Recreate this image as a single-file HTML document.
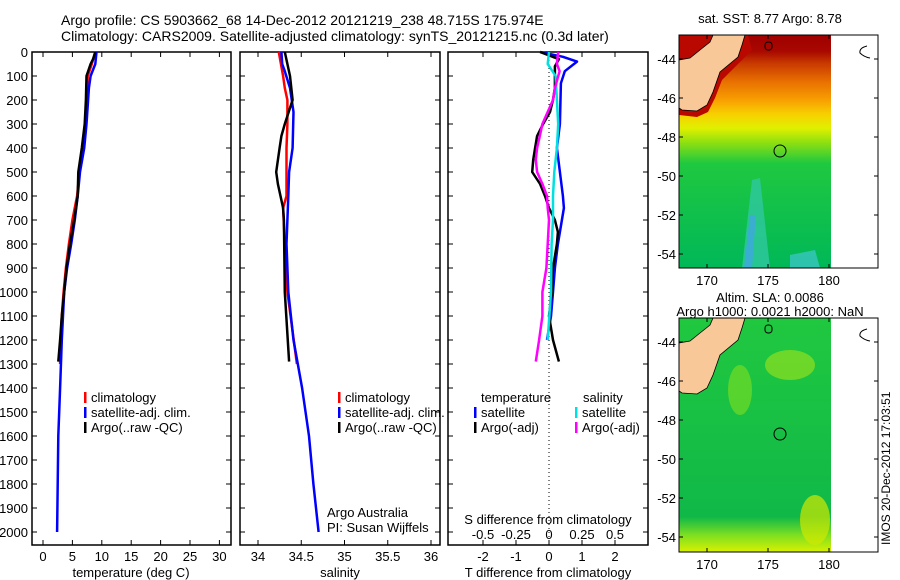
<!DOCTYPE html>
<html><head><meta charset="utf-8">
<style>
html,body{margin:0;padding:0;background:#fff;}
svg{display:block;font-family:"Liberation Sans",sans-serif;}
text{font-size:13px;fill:#000;}
</style></head>
<body>
<svg id="fig" width="900" height="580" viewBox="0 0 900 580" xmlns="http://www.w3.org/2000/svg">
<defs>
  <linearGradient id="sstGrad" x1="0" y1="0" x2="0" y2="1">
    <stop offset="0" stop-color="#a00000"/>
    <stop offset="0.07" stop-color="#a80800"/>
    <stop offset="0.12" stop-color="#c83800"/>
    <stop offset="0.2" stop-color="#e87000"/>
    <stop offset="0.28" stop-color="#f8a000"/>
    <stop offset="0.34" stop-color="#f8d000"/>
    <stop offset="0.4" stop-color="#e0f000"/>
    <stop offset="0.46" stop-color="#90e010"/>
    <stop offset="0.55" stop-color="#20c840"/>
    <stop offset="1" stop-color="#00b858"/>
  </linearGradient>
  <linearGradient id="slaGrad" x1="0" y1="0" x2="0" y2="1">
    <stop offset="0" stop-color="#20c840"/>
    <stop offset="0.85" stop-color="#10b848"/>
    <stop offset="0.93" stop-color="#80e020"/>
    <stop offset="1" stop-color="#d8f000"/>
  </linearGradient>
</defs>

<g>
  <text x="61" y="25" style="font-size:14px">Argo profile: CS 5903662_68 14-Dec-2012 20121219_238 48.715S 175.974E</text>
  <text x="61" y="41" style="font-size:14px">Climatology: CARS2009. Satellite-adjusted climatology: synTS_20121215.nc (0.3d later)</text>
</g>

<g id="p1"></g>
<g id="p2"></g>
<g id="p3"></g>

<!-- SST map -->
<g>
  <text x="770" y="23" text-anchor="middle">sat. SST: 8.77 Argo: 8.78</text>
  <rect x="679" y="35" width="152" height="233" fill="url(#sstGrad)"/>
  <path d="M752 180 L760 178 L770 268 L742 268 Z" fill="#30c8a0" opacity="0.8"/>
  <path d="M750 215 L756 215 L752 268 L744 268 Z" fill="#40a8e0" opacity="0.8"/>
  <path d="M790 255 L815 250 L820 268 L790 268 Z" fill="#40c8d0" opacity="0.7"/>
  <path d="M679 35 L713 35 L748 35 L752 50 L740 62 L722 80 L715 98 L708 112 L697 117 L679 115 Z" fill="#b80800"/>
  <path d="M713 35 L745 35 L742 45 L738 57 L720 72 L713 92 L707 105 L697 111 L682 110 L679 108 L679 60 L690 58 L700 50 L710 42 Z" fill="#f8c898" stroke="#000" stroke-width="0.8"/>
  <circle cx="780" cy="151" r="6" fill="none" stroke="#000"/>
  <rect x="765" y="42" width="7" height="8" rx="3" fill="none" stroke="#000"/>
  <rect x="679" y="35" width="199" height="233" fill="none" stroke="#000"/>
  <path d="M867 46 q-8 2 -7 7 q4 4 10 5" fill="none" stroke="#000"/>
  <g id="m1ticks"></g>
</g>
<!-- SLA map -->
<g>
  <text x="770" y="302" text-anchor="middle">Altim. SLA: 0.0086</text>
  <text x="770" y="316" text-anchor="middle">Argo h1000: 0.0021 h2000: NaN</text>
  <rect x="679" y="318" width="152" height="234" fill="url(#slaGrad)"/>
  <ellipse cx="790" cy="365" rx="25" ry="15" fill="#90e020" opacity="0.7"/>
  <ellipse cx="740" cy="390" rx="12" ry="25" fill="#80e020" opacity="0.6"/>
  <ellipse cx="815" cy="520" rx="15" ry="25" fill="#d0e800" opacity="0.7"/>
  <path d="M713 318 L745 318 L742 328 L738 340 L720 355 L713 375 L707 388 L697 394 L682 393 L679 391 L679 343 L690 341 L700 333 L710 325 Z" fill="#f8c898" stroke="#000" stroke-width="0.8"/>
  <circle cx="780" cy="434" r="6" fill="none" stroke="#000"/>
  <rect x="765" y="325" width="7" height="8" rx="3" fill="none" stroke="#000"/>
  <rect x="679" y="318" width="199" height="234" fill="none" stroke="#000"/>
  <path d="M867 329 q-8 2 -7 7 q4 4 10 5" fill="none" stroke="#000"/>
  <g id="m2ticks"></g>
  <text transform="translate(890,545) rotate(-90)" style="font-size:12px">IMOS 20-Dec-2012 17:03:51</text>
</g>

<script>
// ---- data ----
const tDepthArgo = [0,30,50,100,200,300,400,500,600,700,800,900,1000,1100,1200,1290];
const tArgo      = [8.9,8.5,8.1,7.4,7.3,7.1,6.6,6.0,5.9,5.3,4.6,4.0,3.6,3.2,2.9,2.6];
const tDepthClim = [0,50,100,200,300,400,500,600,700,800,900,1000,1100,1200,1300];
const tClim      = [8.9,8.3,7.6,7.5,7.3,6.8,6.2,5.8,5.0,4.4,3.9,3.5,3.2,3.0,2.9];
const tDepthSat  = [0,50,100,150,300,400,500,600,700,800,900,1000,1200,1400,1600,1800,2000];
const tSat       = [9.1,8.9,8.1,7.8,7.4,7.0,6.3,5.9,5.4,4.8,4.1,3.6,3.2,2.9,2.6,2.5,2.4];

const sDepthArgo = [0,100,200,300,350,400,500,550,600,650,700,1000,1290];
const sArgo      = [34.31,34.37,34.40,34.31,34.27,34.25,34.21,34.23,34.26,34.29,34.30,34.31,34.36];
const sDepthClim = [0,100,150,200,300,400,600,650,800,1000,1300];
const sClim      = [34.24,34.29,34.31,34.34,34.34,34.33,34.33,34.29,34.31,34.34,34.45];
const sDepthSat  = [0,50,80,150,250,400,500,600,800,1000,1200,1400,1600,1800,2000];
const sSat       = [34.27,34.28,34.31,34.37,34.41,34.40,34.36,34.35,34.33,34.35,34.41,34.51,34.59,34.64,34.70];

const dDepthTSat = [0,20,40,80,130,300,400,500,600,650,700,800,900,1000,1100,1200];
const dTSat      = [-0.27,0.42,0.85,0.48,0.36,0.33,0.24,0.33,0.42,0.45,0.39,0.27,0.18,0.12,0.06,-0.06];
const dDepthTArgo= [0,30,60,100,150,200,250,300,350,400,450,500,550,600,650,700,750,800,900,1000,1100,1200,1290];
const dTArgo     = [-0.27,0.3,0.18,0.18,0.18,0.12,0.03,-0.18,-0.36,-0.42,-0.48,-0.51,-0.27,-0.12,0,0.18,0.27,0.24,0.12,0.09,0,0.12,0.3];
const dDepthSSat = [0,50,100,200,300,400,500,600,700,800,1000,1200];
const dSSat      = [0,-0.01,0.05,0.06,0.07,0.06,0.04,0.03,0.03,0.02,0.015,-0.01];
const dDepthSArgo= [0,50,80,150,200,250,300,350,400,450,500,550,600,650,700,800,900,1000,1100,1200,1290];
const dSArgo     = [0.07,0.06,0.08,0.045,0.03,-0.01,-0.05,-0.07,-0.09,-0.1,-0.09,-0.05,-0.015,-0.01,0,-0.01,-0.02,-0.05,-0.05,-0.075,-0.1];

const depthTicks = [0,100,200,300,400,500,600,700,800,900,1000,1100,1200,1300,1400,1500,1600,1700,1800,1900,2000];
const tTicks = [0,5,10,15,20,25,30];
const sTicks = [34,34.5,35,35.5,36];
const dtTicks = [-2,-1,0,1,2];
const dsTicks = [-0.5,-0.25,0,0.25,0.5];
const latTicks = [-44,-46,-48,-50,-52,-54];
const lonTicks = [170,175,180];

// ---- axes ----
const NS='http://www.w3.org/2000/svg';
const TOP=52, BOT=545;
const yD = d => TOP + d*0.24;
const xT = v => 43 + v*5.88;
const xS = v => 258 + (v-34)*86.5;
const xDT = v => 549 + v*33;
const xDS = v => 549 + v*132;
function el(tag, attrs, parent){const e=document.createElementNS(NS,tag);for(const k in attrs)e.setAttribute(k,attrs[k]);parent.appendChild(e);return e;}
function txt(parent,x,y,s,anchor){const t=el('text',{x:x,y:y,'text-anchor':anchor||'start'},parent);t.textContent=s;return t;}

function panel(g,x0,x1,xticks,xf,labels){
  el('rect',{x:x0,y:TOP,width:x1-x0,height:BOT-TOP,fill:'none',stroke:'#000','stroke-width':1.5},g);
  depthTicks.forEach(d=>{
    el('line',{x1:x0,x2:x0+5,y1:yD(d),y2:yD(d),stroke:'#000'},g);
    el('line',{x1:x1-5,x2:x1,y1:yD(d),y2:yD(d),stroke:'#000'},g);
  });
  xticks.forEach((v,i)=>{
    const x=xf(v);
    el('line',{x1:x,x2:x,y1:BOT,y2:BOT-5,stroke:'#000'},g);
    el('line',{x1:x,x2:x,y1:TOP,y2:TOP+5,stroke:'#000'},g);
    const t=txt(g,x,561,labels[i],'middle');
    
    
  });
}
function line(g,depths,vals,xf,color,name){
  let d='';
  depths.forEach((z,i)=>{d+=(i?'L':'M')+xf(vals[i]).toFixed(1)+' '+yD(z).toFixed(1);});
  const p=el('path',{d:d,fill:'none',stroke:color,'stroke-width':2.5,'stroke-linejoin':'round'},g);
  
  
}
function legend(g,x,y,color,label){
  el('rect',{x:x,y:y-10,width:2.5,height:11,fill:color},g);
  const t=txt(g,x+7,y,label);
  
  
}

// Panel 1
const p1=document.getElementById('p1');
panel(p1,32,231,tTicks,xT,tTicks.map(String));
depthTicks.forEach(d=>{const t=txt(p1,28,yD(d)+5,String(d),'end');
  
  });
line(p1,tDepthClim,tClim,xT,'#ff0000','temp-climatology-line');
line(p1,tDepthSat,tSat,xT,'#0000ff','temp-satellite-line');
line(p1,tDepthArgo,tArgo,xT,'#000000','temp-argo-line');
legend(p1,84,402,'#ff0000','climatology');
legend(p1,84,417,'#0000ff','satellite-adj. clim.');
legend(p1,84,432,'#000000','Argo(..raw -QC)');
txt(p1,131,577,'temperature (deg C)','middle');

// Panel 2
const p2=document.getElementById('p2');
panel(p2,240,440,sTicks,xS,['34','34.5','35','35.5','36']);
line(p2,sDepthClim,sClim,xS,'#ff0000','sal-climatology-line');
line(p2,sDepthSat,sSat,xS,'#0000ff','sal-satellite-line');
line(p2,sDepthArgo,sArgo,xS,'#000000','sal-argo-line');
legend(p2,338,402,'#ff0000','climatology');
legend(p2,338,417,'#0000ff','satellite-adj. clim.');
legend(p2,338,432,'#000000','Argo(..raw -QC)');
txt(p2,327,517,'Argo Australia');
txt(p2,327,532,'PI: Susan Wijffels');
txt(p2,340,577,'salinity','middle');

// Panel 3
const p3=document.getElementById('p3');
panel(p3,448,648,dtTicks,xDT,['-2','-1','0','1','2']);
el('line',{x1:549,x2:549,y1:TOP,y2:BOT,stroke:'#000','stroke-dasharray':'1 3'},p3);
line(p3,dDepthTSat,dTSat,xDT,'#0000ff','dT-satellite-line');
line(p3,dDepthTArgo,dTArgo,xDT,'#000000','dT-argo-line');
line(p3,dDepthSSat,dSSat,xDS,'#00e0e0','dS-satellite-line');
line(p3,dDepthSArgo,dSArgo,xDS,'#ff00ff','dS-argo-line');
txt(p3,481,402,'temperature');
txt(p3,583,402,'salinity');
legend(p3,474,417,'#0000ff','satellite');
legend(p3,474,432,'#000000','Argo(-adj)');
legend(p3,575,417,'#00e0e0','satellite');
legend(p3,575,432,'#ff00ff','Argo(-adj)');
txt(p3,548,524,'S difference from climatology','middle');
dsTicks.forEach((v,i)=>{txt(p3,xDS(v),539,['-0.5','-0.25','0','0.25','0.5'][i],'middle');});
txt(p3,548,577,'T difference from climatology','middle');

// Map ticks
function mapTicks(id,y0,y1){
  const g=document.getElementById(id);
  latTicks.forEach(v=>{
    const y=y0+24+(-44-v)*19.5;
    el('line',{x1:679,x2:683,y1:y,y2:y,stroke:'#000'},g);
    el('line',{x1:874,x2:878,y1:y,y2:y,stroke:'#000'},g);
    txt(g,676,y+5,String(v),'end');
  });
  lonTicks.forEach(v=>{
    const x=707+(v-170)*12.2;
    el('line',{x1:x,x2:x,y1:y1,y2:y1-4,stroke:'#000'},g);
    el('line',{x1:x,x2:x,y1:y0,y2:y0+4,stroke:'#000'},g);
    txt(g,x,y1+17,String(v),'middle');
  });
}
mapTicks('m1ticks',35,268);
mapTicks('m2ticks',318,552);
</script>
</svg>
</body></html>
